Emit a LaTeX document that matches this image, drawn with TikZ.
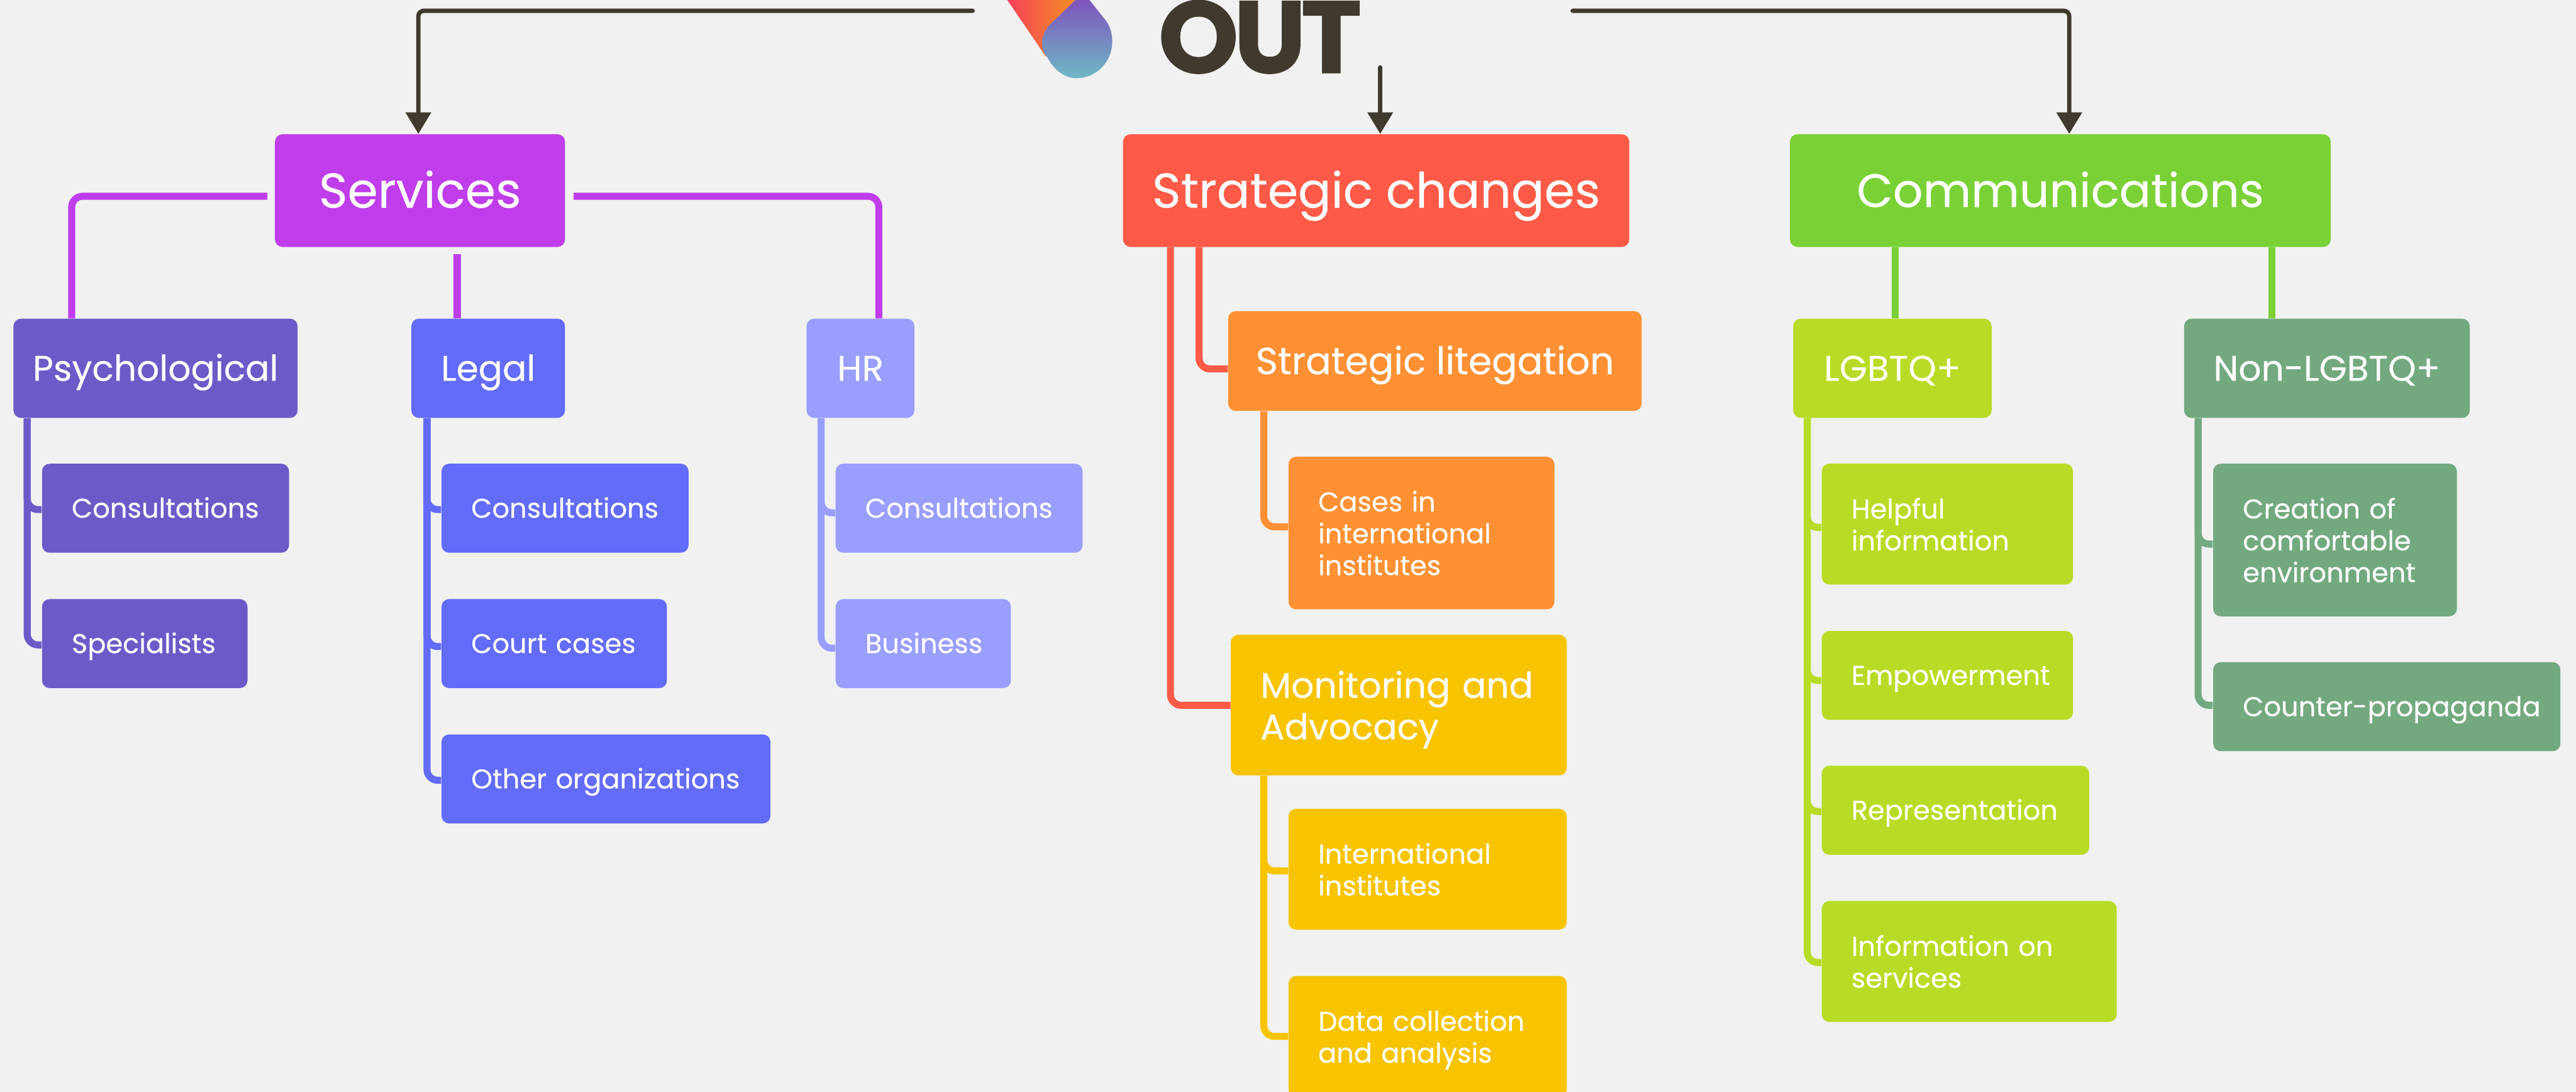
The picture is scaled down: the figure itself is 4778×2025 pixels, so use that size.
\documentclass[tikz,border=0pt]{standalone}
\usepackage{fontspec}
\setmainfont{Poppins}[FakeBold=0.25]
\newfontfamily\outfont{Poppins}[FakeBold=1.2,LetterSpace=-4.5]
\usetikzlibrary{arrows.meta,calc}
\definecolor{bg}{HTML}{F1F1F1}
\definecolor{ink}{HTML}{40392D}
\definecolor{cServ}{HTML}{BF3DEB}
\definecolor{cPsy}{HTML}{6B5BC8}
\definecolor{cLeg}{HTML}{636BF9}
\definecolor{cHR}{HTML}{9A9EFF}
\definecolor{cStr}{HTML}{FF5A47}
\definecolor{cOra}{HTML}{FF9033}
\definecolor{cYel}{HTML}{F8C400}
\definecolor{cCom}{HTML}{7AD136}
\definecolor{cLim}{HTML}{B8DC25}
\definecolor{cSag}{HTML}{73A97F}
\definecolor{logoR}{HTML}{F6405C}
\definecolor{logoO}{HTML}{F4921E}
\definecolor{logoP}{HTML}{7F52BC}
\definecolor{logoM}{HTML}{8272B6}
\definecolor{logoT}{HTML}{6FB9C6}
\tikzset{
  x=0.01cm,y=-0.01cm,
  box/.style={rounded corners=0.14cm,inner ysep=0pt,text=white},
  topone/.style={font=\fontsize{25.8}{30}\selectfont,text height=18pt,text depth=0pt},
  comone/.style={font=\fontsize{24.7}{30}\selectfont,text height=17.3pt,text depth=0pt},
  midone/.style={font=\fontsize{18.8}{21.9}\selectfont,text height=13.2pt,text depth=0pt},
  litone/.style={font=\fontsize{19.9}{21.9}\selectfont,text height=13.9pt,text depth=0pt},
  lowone/.style={font=\fontsize{14.3}{16.8}\selectfont,text height=10pt,text depth=0pt},
  midmany/.style={font=\fontsize{18.8}{21.9}\selectfont},
  lowmany/.style={font=\fontsize{14.3}{16.8}\selectfont},
  conn/.style={line width=0.13cm,rounded corners=0.2cm},
  lead/.style={draw=ink,line width=0.08cm,rounded corners=0.1cm,line cap=round,-{Triangle[width=0.46cm,length=0.4cm]}},
}
% name, x0, y0, x1, y1, style+fill, text
\newcommand{\bxc}[7]{%
  \pgfmathsetlengthmacro\bw{(#4-#2)*0.01cm}\pgfmathsetlengthmacro\bh{(#5-#3)*0.01cm}%
  \node[box,#6,align=center,inner xsep=0pt,minimum width=\bw,minimum height=\bh] (#1) at ({(#2+#4)/2},{(#3+#5)/2}) {#7};}
\newcommand{\bxl}[7]{%
  \pgfmathsetlengthmacro\bw{(#4-#2)*0.01cm}\pgfmathsetlengthmacro\bh{(#5-#3)*0.01cm}\pgfmathsetlengthmacro\tw{(#4-#2-110)*0.01cm}%
  \node[box,#6,align=left,inner xsep=0.55cm,text width=\tw,minimum width=\bw,minimum height=\bh] (#1) at ({(#2+#4)/2},{(#3+#5)/2}) {#7};}
\newcommand{\nodep}[1]{\raisebox{0pt}[\height][0pt]{#1}}
% colour, trunk x, parent, child, branch y
\newcommand{\branch}[5]{\draw[conn,draw=#1] (#2,0 |- #3.south) -- (#2,#5) -- (#4.west |- 0,#5);}
\begin{document}
\begin{tikzpicture}
\useasboundingbox (0,0) rectangle (4778,2025);
\fill[bg] (0,0) rectangle (4778,2025);
\clip (0,0) rectangle (4778,2025);

% logo
\shade[left color=logoR,right color=logoO] (1867,-2) -- (1940,105) -- (2000,70) -- (2000,-2) -- cycle;
\shade[top color=logoP,middle color=logoM,bottom color=logoT] (1997,-2) -- (2019,-2) -- (2047,33) .. controls (2058,45) and (2063,60) .. (2063,77) .. controls (2063,115) and (2033,145) .. (1997,145) .. controls (1975,145) and (1955,130) .. (1943,107) .. controls (1936,98) and (1933,90) .. (1933,80) .. controls (1933,65) and (1940,52) .. (1950,43) -- cycle;
\node[inner sep=0pt,anchor=base west,text=ink,font=\outfont\bfseries\fontsize{53.7}{60}\selectfont] (out) at (2148,135) {OUT};

% top level
\bxc{serv}{510}{249}{1048}{458}{fill=cServ,topone}{Services}
\bxc{strat}{2083}{249}{3022}{458}{fill=cStr,topone}{Strategic changes}
\bxc{comm}{3320}{249}{4323}{458}{fill=cCom,comone}{Communications}

% services branch
\bxc{psy}{25}{591}{552}{775}{fill=cPsy,midone}{Psychological}
\bxc{leg}{763}{591}{1048}{775}{fill=cLeg,midone}{Legal}
\bxc{hr}{1496}{591}{1696}{775}{fill=cHR,midone}{HR}
\bxl{pcons}{78}{860}{536}{1025}{fill=cPsy,lowone}{\mbox{Consultations}}
\bxl{pspec}{78}{1111}{459}{1276}{fill=cPsy,lowone}{\mbox{Specialists}}
\bxl{lcons}{819}{860}{1277}{1025}{fill=cLeg,lowone}{\mbox{Consultations}}
\bxl{lcourt}{819}{1111}{1237}{1276}{fill=cLeg,lowone}{\mbox{Court cases}}
\bxl{lother}{819}{1362}{1429}{1527}{fill=cLeg,lowone}{\mbox{Other organizations}}
\bxl{hcons}{1550}{860}{2008}{1025}{fill=cHR,lowone}{\mbox{Consultations}}
\bxl{hbus}{1550}{1111}{1875}{1276}{fill=cHR,lowone}{\mbox{Business}}

% strategic branch
\bxc{slit}{2278}{577}{3045}{762}{fill=cOra,litone}{Strategic litegation}
\bxl{scases}{2390}{847}{2883}{1130}{fill=cOra,lowmany}{Cases in\\international\\institutes}
\bxl{mon}{2283}{1177}{2906}{1438}{fill=cYel,midmany}{Monitoring and\\\nodep{Advocacy}}
\bxl{mint}{2390}{1500}{2906}{1724}{fill=cYel,lowmany}{International\\institutes}
\bxl{mdata}{2390}{1810}{2906}{2034}{fill=cYel,lowmany}{Data collection\\\nodep{and analysis}}

% communications branch
\bxc{lgbt}{3326}{591}{3694}{775}{fill=cLim,midone}{LGBTQ+}
\bxc{non}{4051}{591}{4581}{775}{fill=cSag,midone}{Non-LGBTQ+}
\bxl{chelp}{3379}{860}{3845}{1084}{fill=cLim,lowmany}{Helpful\\information}
\bxl{cemp}{3379}{1170}{3845}{1335}{fill=cLim,lowone}{\mbox{Empowerment}}
\bxl{crep}{3379}{1420}{3875}{1585}{fill=cLim,lowone}{\mbox{Representation}}
\bxl{cinfo}{3379}{1671}{3926}{1895}{fill=cLim,lowmany}{Information on\\services}
\bxl{ccre}{4105}{860}{4557}{1143}{fill=cSag,lowmany}{Creation of\\comfortable\\environment}
\bxl{ccou}{4105}{1228}{4749}{1393}{fill=cSag,lowone}{\mbox{Counter-propaganda}}

% lead arrows
\coordinate (leadL) at (1804,20);
\coordinate (leadM) at (2560,125);
\coordinate (leadR) at (2917,20);
\draw[lead] (leadL) -- (776,20) -- (776,0 |- serv.north);
\draw[lead] (leadM) -- (2560,0 |- strat.north);
\draw[lead] (leadR) -- (3838,20) -- (3838,0 |- comm.north);

% services connectors (with gaps at the box)
\coordinate (sl) at (496,364);
\coordinate (sr) at (1064,364);
\coordinate (sb) at (848,471);
\draw[conn,draw=cServ] (sl) -- (133,364) -- (133,0 |- psy.north);
\draw[conn,draw=cServ] (sb) -- (848,0 |- leg.north);
\draw[conn,draw=cServ] (sr) -- (1630,364) -- (1630,0 |- hr.north);

\branch{cPsy}{50.5}{psy}{pcons}{945}
\branch{cPsy}{50.5}{psy}{pspec}{1196}
\branch{cLeg}{792}{leg}{lcons}{945}
\branch{cLeg}{792}{leg}{lcourt}{1199}
\branch{cLeg}{792}{leg}{lother}{1447}
\branch{cHR}{1523}{hr}{hcons}{951}
\branch{cHR}{1523}{hr}{hbus}{1202}

\branch{cStr}{2224}{strat}{slit}{684}
\branch{cStr}{2171}{strat}{mon}{1308}
\branch{cOra}{2344}{slit}{scases}{977}
\branch{cYel}{2344}{mon}{mint}{1615}
\branch{cYel}{2344}{mon}{mdata}{1922}

\draw[conn,draw=cCom] (3515,0 |- comm.south) -- (3515,0 |- lgbt.north);
\draw[conn,draw=cCom] (4214,0 |- comm.south) -- (4214,0 |- non.north);
\branch{cLim}{3352}{lgbt}{chelp}{978}
\branch{cLim}{3352}{lgbt}{cemp}{1262}
\branch{cLim}{3352}{lgbt}{crep}{1505}
\branch{cLim}{3352}{lgbt}{cinfo}{1785}
\branch{cSag}{4077}{non}{ccre}{1009}
\branch{cSag}{4077}{non}{ccou}{1308}
\end{tikzpicture}
\end{document}
